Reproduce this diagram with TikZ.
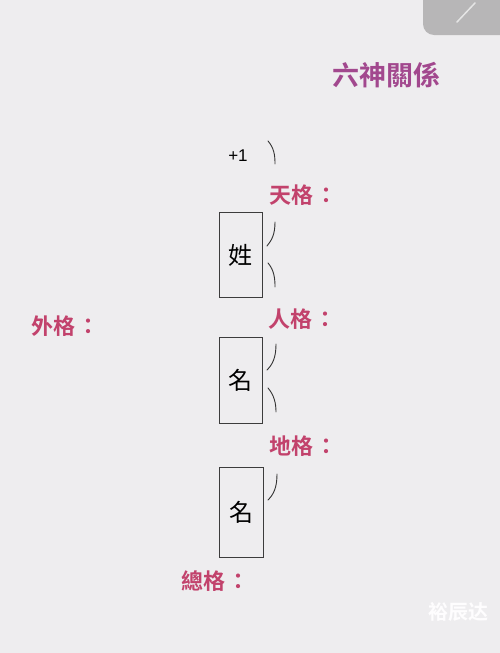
\documentclass[tikz,border=0pt]{standalone}
\usepackage{fontspec}
\newfontfamily\tcfont{Noto Sans CJK TC}
\newfontfamily\tcbold{Noto Sans CJK TC Bold}
\newfontfamily\scbold{Noto Sans CJK SC Bold}
\setsansfont{Liberation Sans}
\definecolor{bgcol}{RGB}{238,237,239}
\definecolor{labcol}{RGB}{194,66,108}
\definecolor{titcol}{RGB}{162,72,142}
\definecolor{boxcol}{RGB}{60,60,60}
\tikzset{
  gebox/.style={draw=boxcol, line width=0.9pt, minimum width=43pt, minimum height=85pt,
    inner sep=0pt, font=\tcfont\fontsize{24}{24}\selectfont},
  gelabel/.style={anchor=west, inner sep=0pt, text=labcol, font=\tcbold\fontsize{22}{22}\selectfont},
  brace/.style={line width=0.9pt, draw=black!80, line cap=round}
}
\newcommand{\gecolon}{\hspace{2pt}：}
\begin{document}
\begin{tikzpicture}[x=1pt, y=-1pt]
    % Hintergrund
    \fill[bgcol] (0,0) rectangle (500,653);
    \useasboundingbox (0,0) rectangle (500,653);
    \fill[gray!50!bgcol, rounded corners=11pt] (423,-20) rectangle (520,35);
    \draw[white!80!gray, line width=1.5pt, line cap=round] (457,22) -- (475,3);

    % Titel
    \node[anchor=west, inner sep=0pt, text=titcol, font=\tcbold\fontsize{27}{27}\selectfont]
        (titel) at (332,75) {六神關係};

    % Zeichen
    \node[font=\sffamily\fontsize{17}{17}\selectfont, inner sep=0pt] (plus) at (238,156) {+1};
    \node[gebox] (xing) at (240.5,255) {姓};
    \node[gebox, minimum height=86pt] (ming1) at (240.5,380) {名};
    \node[gebox, minimum width=44pt, minimum height=90pt] (ming2) at (241,512) {名};

    % Klammern
    \draw[brace] (268,141) .. controls (274,148) and (275,155) .. (275,164);
    \draw[brace] (275,222) .. controls (275,234) and (272,240) .. (267,246);
    \draw[brace] (268,263) .. controls (274,270) and (275,278) .. (275,287);
    \draw[brace] (276,344) .. controls (276,357) and (273,364) .. (267,370);
    \draw[brace] (268,388) .. controls (274,395) and (276,403) .. (276,412);
    \draw[brace] (277,474) .. controls (277,487) and (274,494) .. (268,500);

    % Beschriftungen
    \node[gelabel] (tian) at (269,195) {天格\gecolon};
    \node[gelabel] (ren) at (268,319) {人格\gecolon};
    \node[gelabel] (di) at (269,446) {地格\gecolon};
    \node[gelabel] (zong) at (181,581) {總格\gecolon};
    \node[gelabel] (wai) at (31,326) {外格\gecolon};

    % Wasserzeichen
    \node[inner sep=0pt, text=white!92!bgcol, font=\scbold\fontsize{20}{20}\selectfont]
        (marke) at (458,612) {裕辰达};
\end{tikzpicture}
\end{document}
